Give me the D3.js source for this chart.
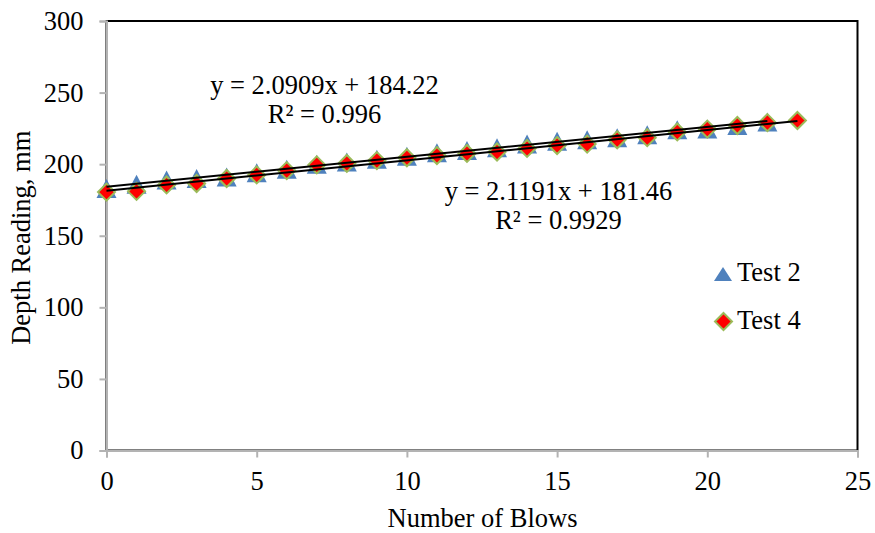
<!DOCTYPE html>
<html>
<head>
<meta charset="utf-8">
<script src="https://cdn.jsdelivr.net/npm/d3@7"></script>
<style>
  html, body { margin: 0; padding: 0; background: #fff; }
  svg text { font-family: "Liberation Serif", "Times New Roman", Tinos, "DejaVu Serif", serif !important; fill: #000; }
</style>
</head>
<body>
<svg id="chart" width="875" height="533"></svg>
<script>
// Blow counts and depth readings (mm) for each test
const blowsTest2 = [0,1,2,3,4,5,6,7,8,9,10,11,12,13,14,15,16,17,18,19,20,21,22];
const depthTest2 = [183, 186, 189, 190, 191, 194, 196.5, 200, 201.5, 203.5, 205.5, 208, 209.5, 211.5, 214, 216, 217, 218.5, 220.5, 224, 224.5, 227, 229.5];
const blowsTest4 = [0,1,2,3,4,5,6,7,8,9,10,11,12,13,14,15,16,17,18,19,20,21,22,23];
const depthTest4 = [180.5, 181, 185.5, 186.5, 190, 192.5, 195.5, 199.5, 200.5, 202.5, 204.5, 206, 207.5, 208.5, 211, 213, 214, 217, 218.5, 222.5, 224.5, 227, 229, 230.5];

// Linear trendline coefficients [slope, intercept] and their labels
const trendTest2 = [2.0909, 184.22];
const trendTest4 = [2.1191, 181.46];
const r2Labels = ["R² = 0.996", "R² = 0.9929"];
const eqLabels = ["y = 2.0909x + 184.22", "y = 2.1191x + 181.46"];

const xTicks = [0, 5, 10, 15, 20, 25];
const yTicks = [0, 50, 100, 150, 200, 250, 300];
const seriesNames = ["Test 2", "Test 4"];

const svg = d3.select("#chart");
const plotL = 106.5, plotR = 857.5, plotT = 21, plotB = 450.5;

const x = d3.scaleLinear().domain([0, 25]).range([plotL, plotR]);
const y = d3.scaleLinear().domain([0, 300]).range([plotB, plotT]);

const axisGray = "#b3b3b3";
const FS = "26.5px";

// plot area frame (top and right edges stay black)
svg.append("rect")
  .attr("x", plotL).attr("y", plotT)
  .attr("width", plotR - plotL).attr("height", plotB - plotT)
  .attr("fill", "none").attr("stroke", "#000").attr("stroke-width", 2);

// y axis
const yAxis = svg.append("g").attr("transform", `translate(${plotL},0)`)
  .call(d3.axisLeft(y).tickValues(yTicks).tickSize(7).tickPadding(16).tickFormat(d3.format("d")));
// x axis
const xAxis = svg.append("g").attr("transform", `translate(0,${plotB})`)
  .call(d3.axisBottom(x).tickValues(xTicks).tickSize(7).tickPadding(14).tickFormat(d3.format("d")));

[yAxis, xAxis].forEach(g => {
  g.attr("font-family", null).attr("font-size", null);
  g.select(".domain").attr("stroke", axisGray).attr("stroke-width", 2);
  g.selectAll(".tick line").attr("stroke", axisGray).attr("stroke-width", 2);
  g.selectAll(".tick text").style("font-size", FS).attr("fill", "#000");
});

// axis titles
svg.append("text")
  .attr("x", (plotL + plotR) / 2 + 0.5).attr("y", 527)
  .attr("text-anchor", "middle").style("font-size", FS)
  .text("Number of Blows");
svg.append("text")
  .attr("transform", `translate(30,${(plotT + plotB) / 2 + 2}) rotate(-90)`)
  .attr("text-anchor", "middle").style("font-size", FS)
  .text("Depth Reading, mm");

// marker shapes
const triPath = (w, h) => `M0,${-h/2}L${w/2},${h/2}L${-w/2},${h/2}Z`;
const diaPath = r => `M0,${-r}L${r},0L0,${r}L${-r},0Z`;

const triColor = "#4f81bd";
const diaFill = "#ff0000";
const diaStroke = "#9bbb59";

// Test 2 markers
svg.append("g").selectAll("path")
  .data(blowsTest2.map((b, i) => [b, depthTest2[i]]))
  .join("path")
  .attr("transform", d => `translate(${x(d[0])},${y(d[1])})`)
  .attr("d", triPath(20, 19))
  .attr("fill", triColor);

// Test 4 markers
svg.append("g").selectAll("path")
  .data(blowsTest4.map((b, i) => [b, depthTest4[i]]))
  .join("path")
  .attr("transform", d => `translate(${x(d[0])},${y(d[1])})`)
  .attr("d", diaPath(8.5))
  .attr("fill", diaFill)
  .attr("stroke", diaStroke).attr("stroke-width", 2);

// trendlines
const trend = (coef, x0, x1) => [[x0, coef[0] * x0 + coef[1]], [x1, coef[0] * x1 + coef[1]]];
const line = d3.line().x(d => x(d[0])).y(d => y(d[1]));
[[trendTest2, d3.min(blowsTest2), d3.max(blowsTest2)],
 [trendTest4, d3.min(blowsTest4), d3.max(blowsTest4)]].forEach(([c, a, b]) => {
  svg.append("path").attr("d", line(trend(c, a, b)))
    .attr("fill", "none").attr("stroke", "#000").attr("stroke-width", 2);
});

// trendline equation labels
const labelPos = [[324.5, 94, 123], [558.5, 200, 229]];
labelPos.forEach(([cx, y1, y2], i) => {
  svg.append("text").attr("x", cx).attr("y", y1).attr("text-anchor", "middle")
    .style("font-size", FS).text(eqLabels[i]);
  svg.append("text").attr("x", cx).attr("y", y2).attr("text-anchor", "middle")
    .style("font-size", FS).text(r2Labels[i]);
});

// legend
const lg = svg.append("g");
lg.append("path").attr("transform", "translate(723,274)")
  .attr("d", triPath(18, 14)).attr("fill", triColor);
lg.append("text").attr("x", 737).attr("y", 281).style("font-size", FS).text(seriesNames[0]);
lg.append("path").attr("transform", "translate(723.5,321.5)")
  .attr("d", diaPath(8.5)).attr("fill", diaFill)
  .attr("stroke", diaStroke).attr("stroke-width", 2);
lg.append("text").attr("x", 737).attr("y", 329).style("font-size", FS).text(seriesNames[1]);
</script>
</body>
</html>
